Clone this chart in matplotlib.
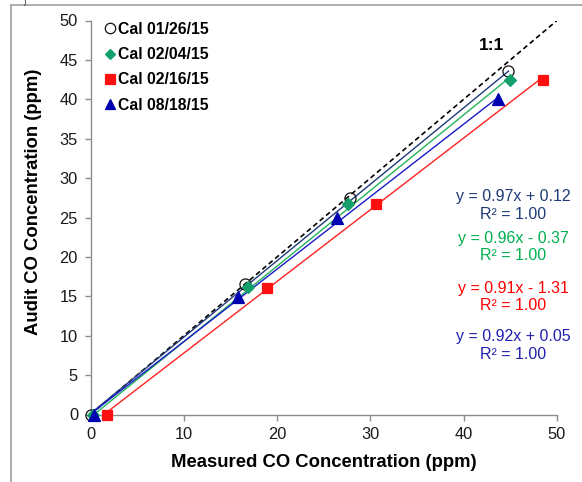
import matplotlib
matplotlib.use('Agg')
import matplotlib.pyplot as plt
from matplotlib.lines import Line2D
from matplotlib import rcParams
import numpy as np

rcParams['font.family'] = ['Liberation Sans', 'DejaVu Sans']

# measured vs audit concentrations (ppm)
labels = ['Cal 01/26/15', 'Cal 02/04/15', 'Cal 02/16/15', 'Cal 08/18/15']
meas_0126 = [0.0, 16.6, 27.8, 44.8]
audit_0126 = [0.0, 16.6, 27.5, 43.6]
meas_0204 = [0.3, 16.9, 27.6, 45.0]
audit_0204 = [0.0, 16.2, 26.7, 42.5]
meas_0216 = [1.8, 18.9, 30.6, 48.5]
audit_0216 = [0.0, 16.1, 26.7, 42.5]
meas_0818 = [0.4, 15.8, 26.4, 43.7]
audit_0818 = [0.0, 14.9, 24.9, 40.0]

# trendline fits as printed on the chart
slopes = [0.97, 0.96, 0.91, 0.92]
intercepts = [0.12, -0.37, -1.31, 0.05]
eq_text = ['y = 0.97x + 0.12', 'y = 0.96x - 0.37', 'y = 0.91x - 1.31', 'y = 0.92x + 0.05']

meas = [meas_0126, meas_0204, meas_0216, meas_0818]
audit = [audit_0126, audit_0204, audit_0216, audit_0818]

line_cols = ['#1F3A78', '#22B35A', '#FF2020', '#1A1AC8']
mk_face = ['none', '#14A06A', '#FF1010', '#0000B0']
mk_edge = ['#111111', '#14A06A', '#FF1010', '#0000B0']
markers = ['o', 'D', 's', '^']
msizes = [8, 6, 7.5, 8]
eq_cols = ['#1F3A78', '#00B050', '#FF0000', '#2020B0']

W, H = 582, 482
fig = plt.figure(figsize=(W / 100, H / 100), dpi=100)
ax = fig.add_axes([90.5 / W, 1 - 414.5 / H, (557 - 90.5) / W, (414.5 - 20.5) / H])
ax.set_xlim(0, 50)
ax.set_ylim(0, 50)

# 1:1 line
ax.plot([0, 50], [0, 50], ls=(0, (3, 2)), color='black', lw=1.2, zorder=2)
ax.text(43.0, 46.8, '1:1', fontsize=12.5, fontweight='bold', ha='center', va='center')

handles = []
order = [2, 0, 1, 3]
for i in order:
    x = np.array(meas[i])
    xs = np.array([x.min(), x.max()])
    ax.plot(xs, slopes[i] * xs + intercepts[i], color=line_cols[i], lw=1.0, zorder=3)
for i in order:
    ax.plot(meas[i], audit[i], ls='none', marker=markers[i], ms=msizes[i],
            mfc=mk_face[i], mec=mk_edge[i], mew=0.9, clip_on=False, zorder=4 + i)

for i in range(4):
    handles.append(Line2D([], [], ls='none', marker=markers[i], ms=msizes[i] - 0.5,
                          mfc=mk_face[i], mec=mk_edge[i], mew=0.9, label=labels[i]))
leg = ax.legend(handles=handles, loc='upper left', bbox_to_anchor=(0.007, 1.025),
                frameon=False, prop={'weight': 'bold', 'size': 11.3},
                handlelength=0.7, handletextpad=0.15, labelspacing=0.66,
                borderaxespad=0.3)

# equation annotations
eq_y = [196.7, 238.0, 288.0, 337.0]
for i in range(4):
    yp = eq_y[i]
    fig.text(513 / W, 1 - yp / H, eq_text[i], color=eq_cols[i], fontsize=11.5,
             ha='center', va='center')
    fig.text(513 / W, 1 - (yp + 17.5) / H, 'R² = 1.00', color=eq_cols[i], fontsize=11.5,
             ha='center', va='center')

for s in ['top', 'right']:
    ax.spines[s].set_visible(False)
for s in ['left', 'bottom']:
    ax.spines[s].set_color('#8C8C8C')
    ax.spines[s].set_linewidth(1.0)
ax.set_xticks(range(0, 51, 10))
ax.set_yticks(range(0, 51, 5))
ax.tick_params(direction='out', length=4, width=1.0, color='#8C8C8C',
               labelsize=11.8, labelcolor='#1a1a1a', pad=5)

ax.set_xlabel('Measured CO Concentration (ppm)', fontsize=13.3, fontweight='bold')
ax.set_ylabel('Audit CO Concentration (ppm)', fontsize=13.3, fontweight='bold')
ax.xaxis.set_label_coords(0.5, -0.1)
ax.yaxis.set_label_coords(-0.104, 0.54)

# frame of the surrounding figure panel
fig.add_artist(Line2D([11 / W, 11 / W], [0, 1 - 5 / H], color='#A0A0A0', lw=1.2))
fig.add_artist(Line2D([11 / W, 1], [1 - 5 / H, 1 - 5 / H], color='#A0A0A0', lw=1.2))
fig.text(25 / W, 1 - 2 / H, ')', fontsize=5, ha='center', va='center')

fig.savefig('out.png', dpi=100)
